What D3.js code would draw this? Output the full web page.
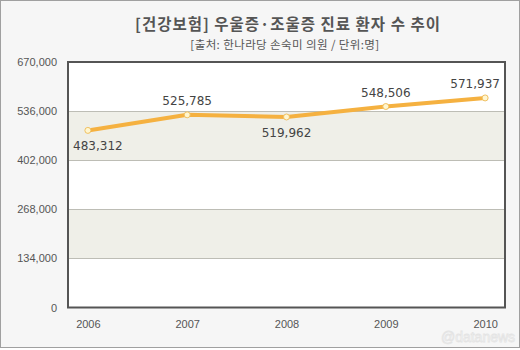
<!DOCTYPE html>
<html><head><meta charset="utf-8">
<script src="https://cdn.jsdelivr.net/npm/d3@7"></script>
<style>body{margin:0;background:#fff}svg{display:block}</style>
</head><body>
<script>
const years = ["2006","2007","2008","2009","2010"];
const patients = [483312, 525785, 519962, 548506, 571937];
const yTicks = [0, 134000, 268000, 402000, 536000, 670000];
const labelBelow = [true, false, true, false, false];
const title = "[건강보험] 우울증·조울증 진료 환자 수 추이";
const subtitle = "[출처: 한나라당 손숙미 의원 / 단위:명]";

const W = 520, H = 350;
const svg = d3.select("body").append("svg").attr("width", W).attr("height", H);
svg.append("rect").attr("x",0.5).attr("y",0.5).attr("width",W-1).attr("height",347)
  .attr("fill","#f6f6f6").attr("stroke","#a0a0a0");

const L = 68, R = 505, T = 62, B = 307.5;
const x = d3.scalePoint().domain(years).range([L, R]).padding(0.2);
const y = d3.scaleLinear().domain([0, 670000]).range([B, T]);

svg.append("rect").attr("x",L).attr("y",T).attr("width",R-L).attr("height",B-T).attr("fill","#fff");
const greyBands = [[yTicks[1],yTicks[2]],[yTicks[3],yTicks[4]]];
svg.selectAll("rect.band").data(greyBands).enter().append("rect")
  .attr("class","band").attr("x",L).attr("width",R-L)
  .attr("y",d=>y(d[1])).attr("height",d=>y(d[0])-y(d[1]))
  .attr("fill","#efefe8");
svg.selectAll("line.grid").data(yTicks.slice(1,-1)).enter().append("line")
  .attr("x1",L).attr("x2",R).attr("y1",d=>Math.round(y(d))+0.5).attr("y2",d=>Math.round(y(d))+0.5)
  .attr("stroke","#bdbdb5");

const yAxis = d3.axisLeft(y).tickValues(yTicks).tickSize(0).tickPadding(11).tickFormat(d3.format(","));
const ga = svg.append("g").attr("transform",`translate(${L},0)`).call(yAxis);
ga.select(".domain").remove();
ga.selectAll("text").attr("font-family","Liberation Sans, Arial, sans-serif").attr("font-size",11).attr("fill","#555");

const xAxis = d3.axisBottom(x).tickSize(0).tickPadding(13);
const gx = svg.append("g").attr("transform",`translate(0,${B})`).call(xAxis);
gx.select(".domain").remove();
gx.selectAll("text").attr("font-family","Liberation Sans, Arial, sans-serif").attr("font-size",11).attr("fill","#555");

svg.append("rect").attr("x",L).attr("y",T).attr("width",R-L).attr("height",B-T)
  .attr("fill","none").attr("stroke","#555").attr("stroke-width",2);

const line = d3.line().x((d,i)=>x(years[i])).y(d=>y(d));
svg.append("path").datum(patients).attr("d",line).attr("fill","none")
  .attr("stroke","#f5b140").attr("stroke-width",4).attr("stroke-linejoin","round");
svg.selectAll("circle.pt").data(patients).enter().append("circle")
  .attr("cx",(d,i)=>x(years[i])).attr("cy",d=>y(d)).attr("r",3)
  .attr("fill","#fff6d0").attr("stroke","#f0c060").attr("stroke-width",1);

const fmt = d3.format(",");
svg.selectAll("text.val").data(patients).enter().append("text")
  .attr("x",(d,i)=>x(years[i]) + (i===0?10:(i===years.length-1?-10:0)))
  .attr("y",(d,i)=>y(d) + (labelBelow[i]?20:-10))
  .attr("text-anchor","middle").attr("font-family","DejaVu Sans, Verdana, sans-serif")
  .attr("font-size",12).attr("fill","#444").text(d=>fmt(d));

svg.append("text").attr("x",288).attr("y",30).attr("text-anchor","middle")
  .attr("font-family","Noto Sans CJK KR, sans-serif").attr("font-weight","bold")
  .attr("letter-spacing",1).attr("font-size",15.5).attr("fill","#555").text(title);
svg.append("text").attr("x",285).attr("y",48.5).attr("text-anchor","middle")
  .attr("font-family","Noto Sans CJK KR, sans-serif").attr("letter-spacing",0.4)
  .attr("font-size",11.5).attr("fill","#555").text(subtitle);

svg.append("text").attr("x",478).attr("y",342).attr("text-anchor","middle")
  .attr("font-family","Liberation Sans, Arial, sans-serif").attr("font-size",14)
  .attr("fill","#fbfbfb").attr("stroke","#e4e4e4").attr("stroke-width",0.8).text("@datanews");
</script>
</body></html>
